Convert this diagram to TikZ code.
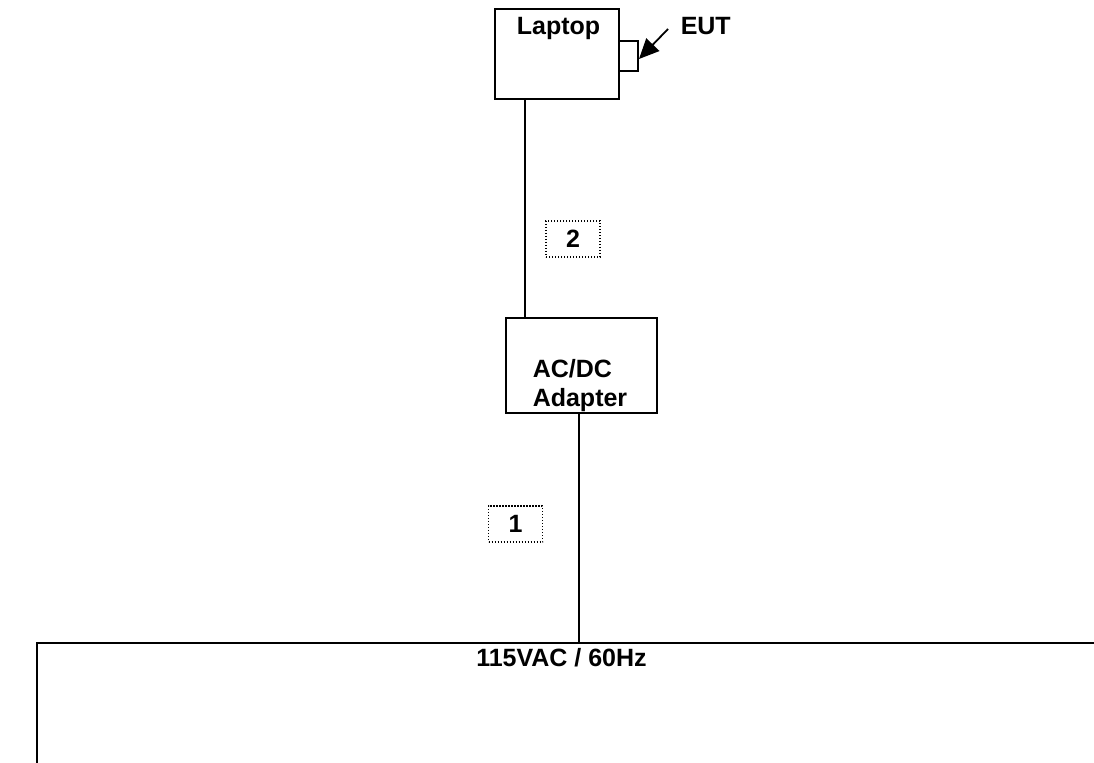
\documentclass[tikz,border=0pt]{standalone}
\usepackage{fontspec}
\setmainfont{Liberation Sans}
\usetikzlibrary{arrows.meta}
\tikzset{
    unit/.style={draw, rectangle, inner sep=0pt, outer sep=0pt},
    numbox/.style={draw, line width=0.7pt, dash pattern=on 0.7pt off 0.8pt, rectangle, inner sep=0pt, outer sep=0pt},
    tag/.style={font=\bfseries\fontsize{12.5}{14.5}\selectfont, inner sep=0pt}
}
\begin{document}
\begin{tikzpicture}[x=0.5pt, y=-0.5pt, line width=0.75pt]
    \useasboundingbox (0,0) rectangle (1094,763);
    % equipment
    \node[unit, minimum width=62pt, minimum height=45pt] (laptop) at (557,54) {};
    \node[unit, minimum width=9.5pt, minimum height=15pt] (eut) at (628.5,56) {};
    \node[unit, minimum width=75.5pt, minimum height=47.5pt] (adapter) at (581.5,365.5) {};
    \node[tag, anchor=base] (laptoptext) at (558.5,35) {Laptop};
    \node[tag, anchor=base west] (euttext) at (680,35) {EUT};
    \node[tag, anchor=north west, align=left] (adaptertext) at (532,359) {AC/DC\\Adapter};
    \coordinate (eutarrow) at (668,29);
    \draw[line width=0.9pt, -{Triangle[length=10pt, width=9pt]}] (eutarrow) -- (639,59);
    % cables
    \coordinate (cabletwo) at (525,0);
    \coordinate (cableone) at (579,0);
    \coordinate (mains) at (37,643);
    \draw (laptop.south -| cabletwo) -- (adapter.north -| cabletwo);
    \draw (adapter.south -| cableone) -- (mains -| cableone);
    \foreach \n/\x/\y in {2/573/239, 1/515.5/524} {
        \node[numbox, minimum width=27pt, minimum height=18pt] (box\n) at (\x,\y) {};
        \node[tag] at (box\n) {\n};
    }
    % mains
    \draw[line width=1pt] (37,763) -- (mains) -- (1094,643);
    \node[tag, anchor=base] (mainstext) at (561.5,667) {115VAC / 60Hz};
\end{tikzpicture}
\end{document}
